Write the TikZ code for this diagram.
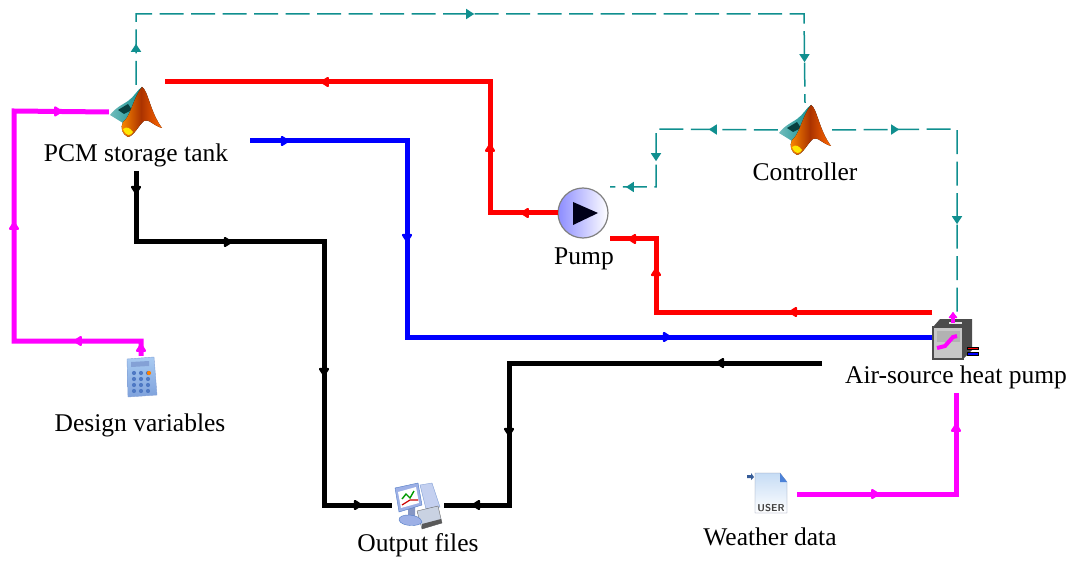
\documentclass[tikz,border=0pt]{standalone}
\usepackage{fontspec}
\setmainfont{Liberation Serif}
\usepackage{xcolor}
\usepackage{tikz}
\usetikzlibrary{arrows.meta, positioning, decorations.markings}

\definecolor{flowred}{HTML}{FF0000}
\definecolor{flowblue}{HTML}{0000FF}
\definecolor{flowpink}{HTML}{FF00FF}
\definecolor{signalteal}{HTML}{108F8F}
\definecolor{calcpale}{HTML}{A9CBF2}
\definecolor{calcdeep}{HTML}{7FA2DC}
\definecolor{calckey}{HTML}{4F79C4}
\definecolor{docpale}{HTML}{C6DCF5}
\definecolor{docedge}{HTML}{7F8CA8}
\definecolor{docblue}{HTML}{4C82D8}
\definecolor{prnbody}{HTML}{C9D2E2}
\definecolor{scrnblue}{HTML}{9DB0E6}

\tikzset{
    iconbox/.style={inner sep=0pt, minimum width=#1, minimum height=#1},
    iconlabel/.style={font=\fontsize{25.5}{27}\selectfont, inner sep=0pt},
    tipat/.style={postaction={decorate, decoration={markings, mark=at position #1pt with {\pgftransformxshift{5pt}\arrow{Latex[length=11pt, width=13pt, round]}}}}},
    thintip/.style={postaction={decorate, decoration={markings, mark=at position #1pt with {\pgftransformxshift{4pt}\arrow{Triangle[length=8pt, width=10pt]}}}}},
    flow/.style={line width=5pt, draw=#1, line join=miter},
    signal/.style={line width=1.5pt, draw=signalteal, dash pattern=on 24pt off 7.5pt},
    membrane/.pic={
        \shade[left color=signalteal!60!white, right color=signalteal] (-26,3) .. controls (-20,-5) and (-12,-8) .. (-8,-11) .. controls (-2,-15) and (2,-23) .. (6,-25) -- (-4,11) -- (-13,11) -- cycle;
        \fill[black!55!signalteal] (-18,-2) -- (-8,-8) -- (-4,-2) -- (-12,2) -- cycle;
        \fill[left color=orange!90!yellow, right color=orange!80!red, middle color=red!45!black!60!orange]
            (6,-25) .. controls (12,-22) and (14,0) .. (26,16) .. controls (18,14) and (12,6) .. (8,9)
            .. controls (2,14) and (-2,24) .. (-8,25) .. controls (-14,22) and (-16,16) .. (-13,10)
            .. controls (-6,6) and (-2,-16) .. cycle;
        \fill[yellow!90!orange] (-13,17) .. controls (-9,14) and (-6,16) .. (-3,20) .. controls (-5,24) and (-10,25) .. cycle;
    },
    pumpdisc/.pic={
        \shade[left color=blue!45!white, right color=white, draw=black!50, line width=1.2pt] (0,0) circle (25);
        \fill[black!90!blue] (-10,-11) -- (15,0) -- (-10,12) -- cycle;
    },
    heatunit/.pic={
        \fill[black!70] (-13,-18) -- (19,-18) -- (19,13) -- (10,22) -- (10,-10) -- (-20,-10) -- cycle;
        \fill[black!22] (-20,-10) rectangle (10,22);
        \draw[black!70, line width=1.5pt] (-20,-10) rectangle (10,22);
        \fill[black!10] (-4,-15.5) rectangle (9,-13);
        \fill[black!30] (-16,-6) rectangle (7,5);
        \draw[flowpink, line width=4pt] (-16,11) -- (-8,9) -- (0,0) -- (4,-1);
        \draw[flowpink, line width=4.5pt, -{Latex[length=7pt, width=11pt, round]}] (0,-14) -- (0,-25);
        \draw[black, line width=.6pt, fill=flowred] (14,10) rectangle (25,12.5);
        \draw[black, line width=.6pt, fill=flowblue] (14,15.5) rectangle (25,18);
    },
    calcbody/.pic={
        \shade[top color=calcpale, bottom color=calcdeep, draw=calckey!70] (-14,-19) -- (13,-21) -- (16,17) -- (-13,19) -- cycle;
        \fill[calckey!70!white] (-10,-16) -- (8,-17) -- (8,-12) -- (-10,-11) -- cycle;
        \foreach \i in {0,1,2} \foreach \j in {0,1,2,3}
            \fill[calckey] (-7+\i*7,-5+\j*6) circle (2.1);
        \fill[orange] (8,-5) circle (2.1);
    },
    printerset/.pic={
        \fill[scrnblue!60!white, draw=calckey!70] (2,-20) -- (14,-22) -- (22,2) -- (8,4) -- cycle;
        \fill[prnbody, draw=black!60] (-1,6) -- (20,1) -- (24,18) -- (4,24) -- cycle;
        \fill[black!65] (4,19) -- (23,14) -- (24,18) -- (4,24) -- cycle;
        \fill[scrnblue!85!black] (-10,4) -- (-3,2) -- (-3,14) -- (-10,14) -- cycle;
        \fill[scrnblue, draw=calckey] (-19,15) .. controls (-20,8) and (2,8) .. (4,17) .. controls (2,22) and (-17,22) .. cycle;
        \fill[scrnblue, draw=calckey] (-23,-17) -- (0,-22) -- (4,0) -- (-19,7) -- cycle;
        \fill[white] (-20,-13) -- (-2,-18) -- (1,-2) -- (-17,3) -- cycle;
        \draw[green!60!black, line width=1.4pt] (-16,-6) -- (-12,-11) -- (-8,-7) -- (-4,-14);
        \draw[red!80!black, line width=1.2pt] (-16,0) -- (-8,-5) -- (0,-5);
    },
    userdoc/.pic={
        \shade[top color=docpale, bottom color=white, draw=docedge] (-16,-21) -- (9,-21) -- (16,-12) -- (16,19) -- (-16,19) -- cycle;
        \fill[docblue] (9,-21) -- (16,-12) -- (9,-12) -- cycle;
        \fill[docblue!70!black] (-24,-19) -- (-20,-19) -- (-20,-21) -- (-17,-17) -- (-20,-14) -- (-20,-16) -- (-24,-16) -- cycle;
    }
}

\begin{document}
\begin{tikzpicture}[x=1pt, y=-1pt]
\useasboundingbox (0,0) rectangle (1073,561);

% icons
\node[iconbox=54pt] (tank) at (136,112) {};
\node[iconbox=54pt] (controller) at (805,130) {};
\node[iconbox=50pt] (pump) at (583,213) {};
\node[iconbox=44pt] (design) at (141,378) {};
\node[iconbox=52pt] (output) at (418,505) {};
\node[iconbox=52pt] (weather) at (771,494) {};
\node[iconbox=42pt] (heatpump) at (953,337) {};

\pic at (tank) {membrane};
\pic at (controller) {membrane};
\pic at (pump) {pumpdisc};
\pic at (design) {calcbody};
\pic at (output) {printerset};
\pic at (weather) {userdoc};
\pic at (heatpump) {heatunit};
\node[inner sep=0pt, font=\fontsize{10}{11}\sffamily\bfseries, text=black!75] (usertag) at (771,508) {USER};

% labels
\node[iconlabel] (tanklabel) at (136,155) {PCM storage tank};
\node[iconlabel] (controllerlabel) at (805,172) {Controller};
\node[iconlabel] (pumplabel) at (584,259) {Pump};
\node[iconlabel] (designlabel) at (140,425) {Design variables};
\node[iconlabel] (outputlabel) at (418,545) {Output files};
\node[iconlabel] (weatherlabel) at (770,537) {Weather data};
\node[iconlabel] (heatpumplabel) at (956,377) {Air-source heat pump};

% free ends and corners
\coordinate (redend) at (165,82);
\coordinate (blueend) at (250,141);
\coordinate (blackend) at (136,171);
\coordinate (hpred) at (932,312);
\coordinate (hpblack) at (822,363);
\coordinate (hpweather) at (956,393);
\coordinate (hpsignal) at (957,312);
\coordinate (pumpred) at (610,239);
\coordinate (pumpsignal) at (610,187);

% magenta
\draw[flow=flowpink, tipat=8, tipat=78, tipat=257, tipat=416] (design.north) -- (141,341) -- (14,341) -- (14,111) -- (tank.west);
\draw[flow=flowpink, tipat=78, tipat=225] (weather.east) -- (956,494) -- (hpweather);

% red
\draw[flow=flowred, tipat=33, tipat=133, tipat=364] (pump.west) -- (490,213) -- (490,82) -- (redend);
\draw[flow=flowred, tipat=139, tipat=316, tipat=373] (hpred) -- (656,312) -- (656,239) -- (pumpred);

% blue
\draw[flow=flowblue, tipat=35, tipat=254, tipat=613] (blueend) -- (407,141) -- (407,337) -- (heatpump.west);

% black
\draw[flow=black, tipat=19, tipat=163, tipat=389, tipat=556] (blackend) -- (136,242) -- (324,242) -- (324,505) -- (output.west);
\draw[flow=black, tipat=102, tipat=382, tipat=488] (hpblack) -- (509,363) -- (509,505) -- (output.east);

% signals
\draw[signal, thintip=37, thintip=405, thintip=783] (tank.north) -- (136,14) -- (804,14) -- (controller.north);
\draw[signal, thintip=65, thintip=150, thintip=206] (controller.west) -- (656,129) -- (656,187) -- (pumpsignal);
\draw[signal, thintip=63, thintip=216] (controller.east) -- (957,129) -- (hpsignal);

\end{tikzpicture}
\end{document}
